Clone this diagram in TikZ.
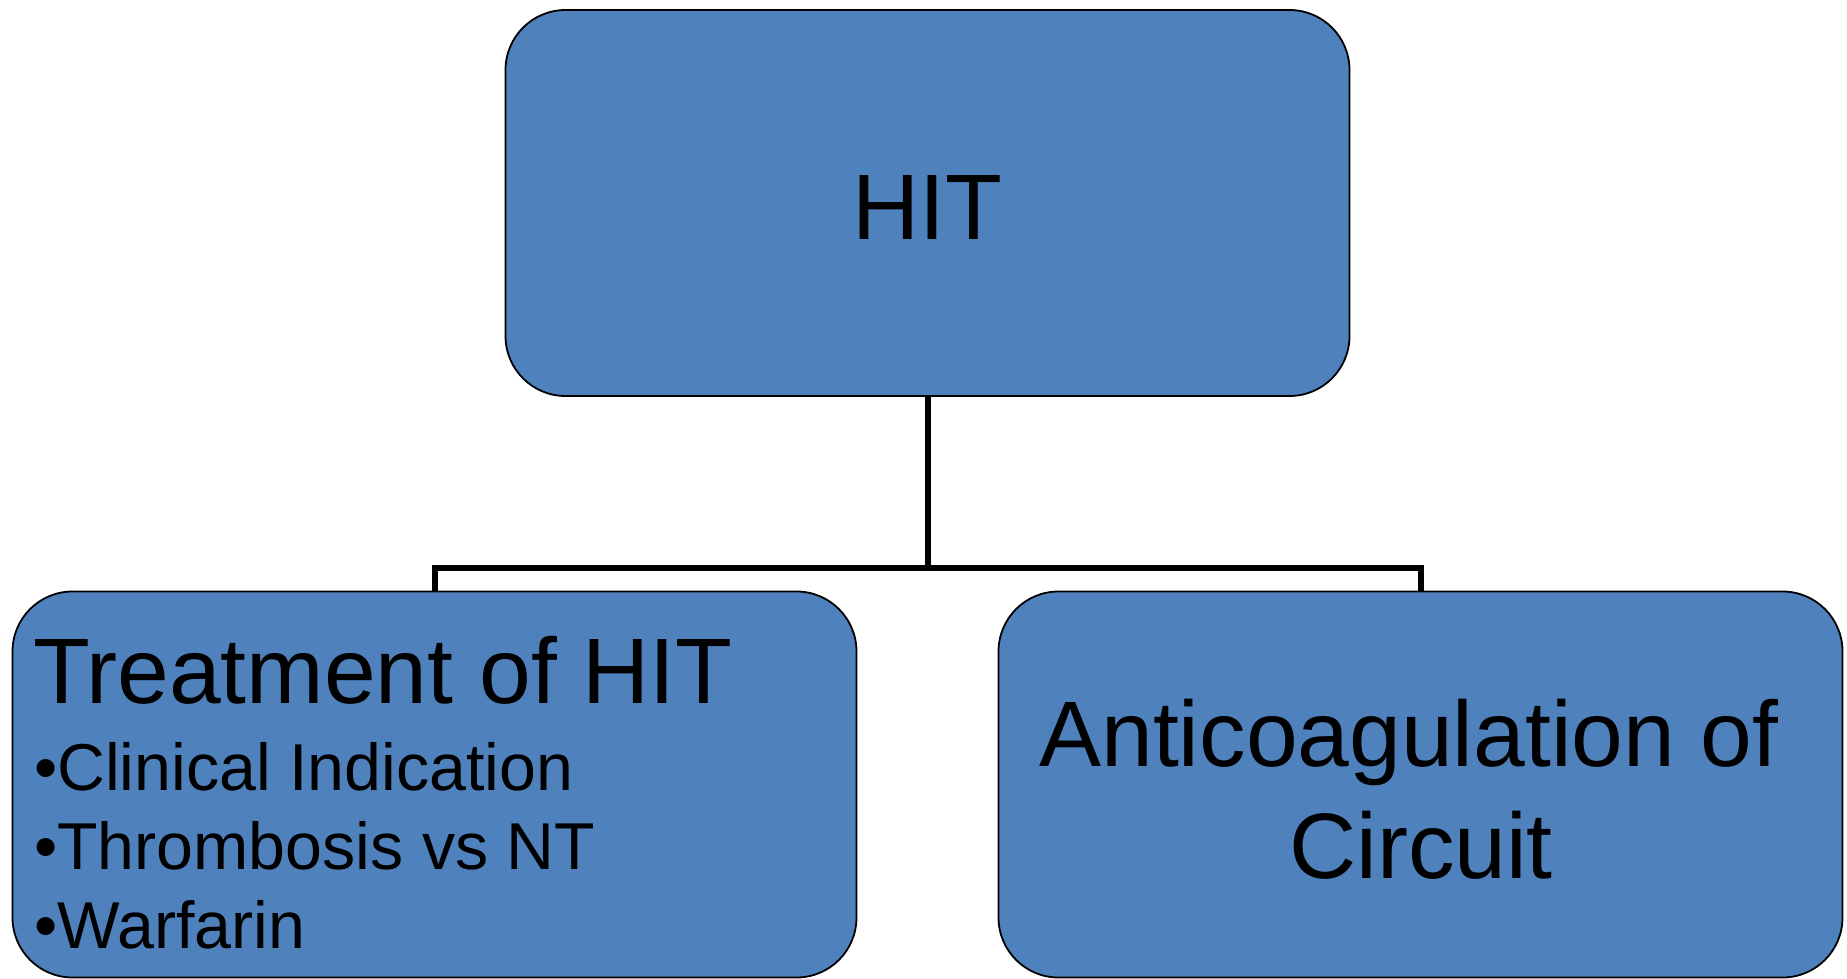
\documentclass[tikz,border=0pt]{standalone}
\usepackage{fontspec}
\setmainfont{Liberation Sans}
\definecolor{boxblue}{RGB}{79,129,189}
\begin{document}
\begin{tikzpicture}[x=1pt,y=-1pt,
  box/.style={draw=black,line width=1.8pt,fill=boxblue,rounded corners=60pt,
    minimum width=844pt,minimum height=386pt,inner sep=0pt},
  conn/.style={draw=black,line width=6pt},
  big/.style={font=\fontsize{93}{112}\selectfont,inner sep=0pt},
  small/.style={font=\fontsize{66.3}{79}\selectfont,inner sep=0pt,anchor=base west}]
\useasboundingbox (0,0) rectangle (1847,979);
\node[box] (top) at (927.5,203) {};
\node[box] (left) at (434.5,784.5) {};
\node[box] (right) at (1420.5,784.5) {};
\coordinate (j) at (927.5,568);
\draw[conn] (top.south) -- (j);
\draw[conn] (left.north) |- (j) -| (right.north);
\node[big,anchor=base] (hit) at (927.5,239) {HIT};
\node[big,anchor=base west] (treat) at (33,703) {Treatment of HIT};
\node[small] (b1) at (34,790) {•Clinical Indication};
\node[small] (b2) at (34,869) {•Thrombosis vs NT};
\node[small] (b3) at (34,948) {•Warfarin};
\node[big,anchor=base] (anti) at (1409,766) {Anticoagulation of};
\node[big,anchor=base] (circ) at (1421,878) {Circuit};
\end{tikzpicture}
\end{document}
